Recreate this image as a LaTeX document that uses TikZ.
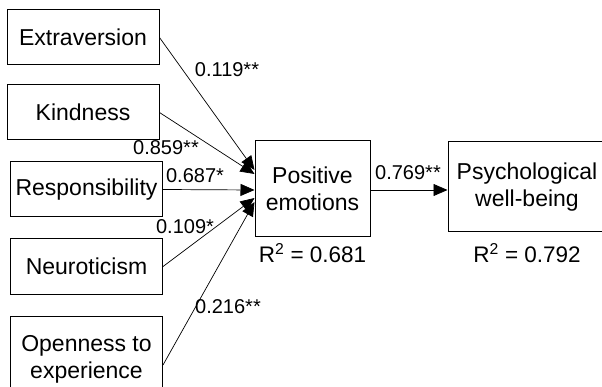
\documentclass[tikz,border=0pt]{standalone}
\usepackage{fontspec}
\setmainfont{Liberation Sans}
\usepackage{tikz}
\usetikzlibrary{arrows.meta, positioning}
\tikzset{
  % Box styles
  varbox/.style={rectangle, draw=black, line width=1pt, fill=white, minimum width=152pt, minimum height=55pt, inner sep=2pt, font=\fontsize{23}{27}\selectfont, align=center},
  medbox/.style={rectangle, draw=black, line width=1pt, fill=white, minimum width=115pt, minimum height=96pt, inner sep=2pt, font=\fontsize{23}{27}\selectfont, align=center},
  % Arrow styles
  patharrow/.style={-{Triangle[length=14pt,width=12pt]}, line width=0.7pt, black},
  % Label styles
  coeflabel/.style={inner sep=0pt, font=\fontsize{20}{24}\selectfont},
  rsqlabel/.style={inner sep=0pt, font=\fontsize{22.5}{26}\selectfont}
}
\begin{document}
\begin{tikzpicture}[x=1pt, y=-1pt]
  \clip (0,0) rectangle (602,387);

  % predictors
  \node[varbox] (ext) at (83,37.5) {Extraversion};
  \node[varbox, below=19pt of ext] (kind) {Kindness};
  \node[varbox, below=21pt of kind, xshift=3.5pt] (resp) {Responsibility};
  \node[varbox, below=21pt of resp] (neuro) {Neuroticism};
  \node[varbox, minimum height=86pt, below=21pt of neuro] (open) {Openness to\\experience};

  % mediator and outcome
  \node[medbox] (pos) at (312.5,189) {Positive\\emotions};
  \node[medbox, minimum width=158pt, minimum height=90pt] (pwb) at (527,187) {Psychological\\well-being};

  \node[rsqlabel, below=6pt of pos] (rpos) {R\textsuperscript{2} = 0.681};
  \node[rsqlabel, below=11pt of pwb] (rpwb) {R\textsuperscript{2} = 0.792};

  \draw[patharrow] (ext.east) -- ([yshift=19pt]pos.west);
  \draw[patharrow] (kind.east) -- ([yshift=15pt]pos.west);
  \draw[patharrow] (resp.east) -- ([yshift=-1pt]pos.west);
  \draw[patharrow] (neuro.east) -- ([yshift=-9pt]pos.west);
  \draw[patharrow] ([yshift=-6pt]open.east) -- ([yshift=-13pt]pos.west);
  \draw[patharrow] ([yshift=-1pt]pos.east) -- ([yshift=-3pt]pwb.west);

  % path coefficients
  \node[coeflabel] (c1) at (227,70) {0.119**};
  \node[coeflabel] (c2) at (166,148) {0.859**};
  \node[coeflabel] (c3) at (195,176) {0.687*};
  \node[coeflabel] (c4) at (185,227) {0.109*};
  \node[coeflabel] (c5) at (228,307) {0.216**};
  \node[coeflabel] (c6) at (408,173) {0.769**};
\end{tikzpicture}
\end{document}
